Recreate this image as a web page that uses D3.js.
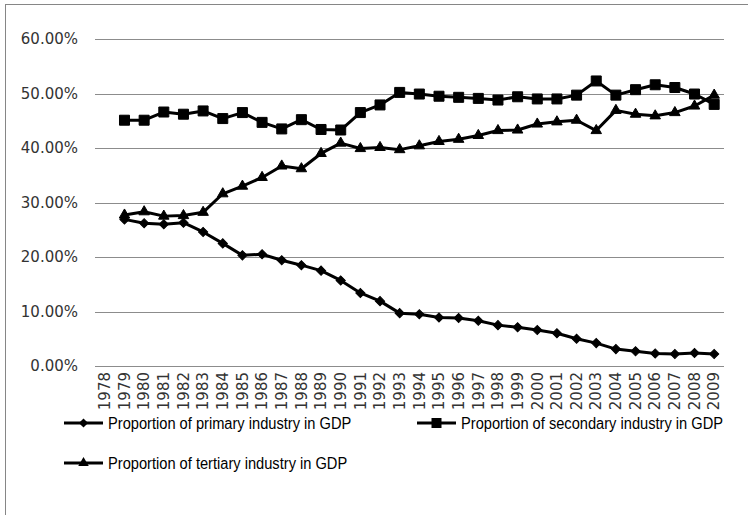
<!DOCTYPE html>
<html>
<head>
<meta charset="utf-8">
<script src="https://cdn.jsdelivr.net/npm/d3@7"></script>
<style>
  body { margin: 0; background: #fff; }
  svg { display: block; }
</style>
</head>
<body>
<div id="chart"></div>
<script>
// Data, shares in percent
const years = ['1978', '1979', '1980', '1981', '1982', '1983', '1984', '1985', '1986', '1987',
  '1988', '1989', '1990', '1991', '1992', '1993', '1994', '1995', '1996', '1997', '1998',
  '1999', '2000', '2001', '2002', '2003', '2004', '2005', '2006', '2007', '2008', '2009'];

const primary = [null, 26.9, 26.2, 26.0, 26.3, 24.6, 22.5, 20.3, 20.5, 19.4, 18.5, 17.5,
  15.7, 13.4, 11.9, 9.7, 9.5, 8.9, 8.8, 8.3, 7.5, 7.1, 6.6, 6.0, 5.0, 4.2, 3.1, 2.7, 2.3,
  2.2, 2.4, 2.2];

const secondary = [null, 45.1, 45.1, 46.6, 46.2, 46.8, 45.4, 46.5, 44.7, 43.5, 45.2, 43.4,
  43.3, 46.5, 47.9, 50.2, 49.9, 49.5, 49.3, 49.1, 48.8, 49.4, 49.0, 49.0, 49.7, 52.3, 49.7,
  50.7, 51.6, 51.1, 49.9, 48.0];

const tertiary = [null, 27.7, 28.3, 27.5, 27.6, 28.2, 31.6, 33.0, 34.6, 36.7, 36.2, 39.0,
  40.9, 39.9, 40.1, 39.7, 40.4, 41.2, 41.6, 42.3, 43.2, 43.3, 44.4, 44.8, 45.1, 43.2, 46.9,
  46.2, 45.9, 46.5, 47.7, 49.7];

const yTicks = [0, 10, 20, 30, 40, 50, 60];

const seriesNames = ['Proportion of primary industry in GDP',
  'Proportion of secondary industry in GDP',
  'Proportion of tertiary industry in GDP'];

//Chart dimensions
const W = 748, H = 515;
const plot = { left: 95, right: 724, top: 39, bottom: 366 };

const svg = d3.select('#chart').append('svg')
  .attr('width', W)
  .attr('height', H);

//Outer frame
svg.append('rect')
  .attr('x', 5.5).attr('y', 4.5)
  .attr('width', 800).attr('height', 600)
  .attr('fill', 'none')
  .attr('stroke', '#868686')
  .attr('stroke-width', 1);

// Scales
const xBand = d3.scaleBand()
  .domain(years)
  .range([plot.left, plot.right])
  .padding(0);
const xPos = d => xBand(d) + xBand.bandwidth() / 2;

const yScale = d3.scaleLinear()
  .domain([0, 60])
  .range([plot.bottom, plot.top]);

//Gridlines + y labels
const yAxis = d3.axisLeft(yScale)
  .tickValues(yTicks)
  .tickSizeInner(-(plot.right - plot.left))
  .tickSizeOuter(0)
  .tickPadding(17)
  .tickFormat(d => d.toFixed(2) + '%');

const yAxisGroup = svg.append('g')
  .attr('transform', `translate(${plot.left}, 0)`)
  .call(yAxis);
yAxisGroup.select('.domain').remove();
yAxisGroup.selectAll('line')
  .attr('stroke', '#8c8c8c')
  .attr('stroke-width', 1)
  .attr('shape-rendering', 'crispEdges');
yAxisGroup.selectAll('text')
  .attr('fill', '#333')
  .style('font-family', 'DejaVu Sans, Verdana, sans-serif')
  .style('font-size', '15px');

//X axis labels (vertical)
const xAxis = d3.axisBottom(xBand).tickSize(0);
const xAxisGroup = svg.append('g')
  .attr('transform', `translate(0, ${plot.bottom})`)
  .call(xAxis);
xAxisGroup.select('.domain').remove();
xAxisGroup.selectAll('text')
  .attr('transform', 'rotate(-90)')
  .attr('x', -6)
  .attr('y', 0)
  .attr('dy', '0.35em')
  .style('text-anchor', 'end')
  .attr('fill', '#333')
  .style('font-family', 'DejaVu Sans, Verdana, sans-serif')
  .style('font-size', '15px');

//Series
const symbols = [
  { type: d3.symbolSquare, size: 42, rotate: 45 },   // diamond
  { type: d3.symbolSquare, size: 100, rotate: 0 },   // square
  { type: d3.symbolTriangle, size: 48, rotate: 0 }   // triangle
];

const allSeries = [primary, secondary, tertiary];

const line = d3.line()
  .defined(d => d.v !== null)
  .x(d => xPos(d.year))
  .y(d => yScale(d.v));

allSeries.forEach((values, i) => {
  const pts = years.map((year, j) => ({ year: year, v: values[j] }));
  const g = svg.append('g').attr('class', 'series');

  g.append('path')
    .attr('d', line(pts))
    .attr('fill', 'none')
    .attr('stroke', '#000')
    .attr('stroke-width', 3)
    .attr('stroke-linejoin', 'round');

  const sym = d3.symbol().type(symbols[i].type).size(symbols[i].size);
  g.selectAll('path.marker')
    .data(pts.filter(d => d.v !== null))
    .enter().append('path')
    .attr('class', 'marker')
    .attr('d', sym)
    .attr('transform', d => `translate(${xPos(d.year)}, ${yScale(d.v)}) rotate(${symbols[i].rotate})`)
    .attr('fill', '#000')
    .attr('stroke', '#000')
    .attr('stroke-width', 1);
});

//Legend
const legendPos = [
  { x: 64, y: 423 },
  { x: 417, y: 423 },
  { x: 64, y: 463 }
];

const legendTexts = [];
seriesNames.forEach((name, i) => {
  const lg = svg.append('g')
    .attr('class', 'legend')
    .attr('transform', `translate(${legendPos[i].x}, ${legendPos[i].y})`);

  lg.append('line')
    .attr('x1', 0).attr('x2', 39)
    .attr('y1', 0).attr('y2', 0)
    .attr('stroke', '#000')
    .attr('stroke-width', 3);

  lg.append('path')
    .attr('d', d3.symbol().type(symbols[i].type).size(symbols[i].size)())
    .attr('transform', `translate(19.5, 0) rotate(${symbols[i].rotate})`)
    .attr('fill', '#000');

  const t = lg.append('text')
    .attr('x', 44)
    .attr('y', 0)
    .attr('dy', '0.35em')
    .attr('fill', '#000')
    .style('font-family', '"Liberation Sans", Arial, sans-serif')
    .style('font-size', '16px')
    .text(name);
  legendTexts.push(t);
});

// The original uses a condensed font; squeeze the glyphs to the same width
const squeeze = 262 / legendTexts[1].node().getComputedTextLength();
legendTexts.forEach(t => {
  const len = t.node().getComputedTextLength();
  t.attr('textLength', len * squeeze)
    .attr('lengthAdjust', 'spacingAndGlyphs');
});
</script>
</body>
</html>
